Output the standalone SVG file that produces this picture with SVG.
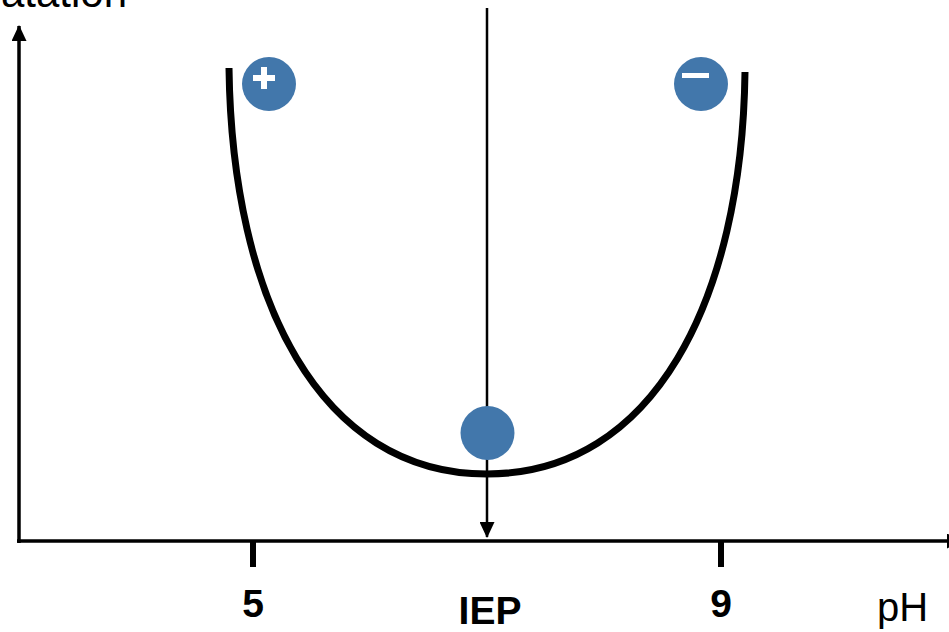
<svg xmlns="http://www.w3.org/2000/svg" width="949" height="632" viewBox="0 0 949 632">
<defs>
<style>
.axis{stroke:#000;stroke-width:3.5;fill:none}
.tick{stroke:#000;stroke-width:6}
.lbl{font-family:"Liberation Sans",Arial,sans-serif;fill:#000}
.b{font-weight:bold;font-size:39px;text-anchor:middle}
.ball{fill:#4277AB}
</style>
<marker id="ah" viewBox="0 0 16 15" refX="15" refY="7.5" markerWidth="16" markerHeight="15" markerUnits="userSpaceOnUse" orient="auto">
<path d="M0,0 L16,7.5 L0,15 Z" fill="#000"/>
</marker>
</defs>
<rect width="949" height="632" fill="#fff"/>
<g id="connectors">
<line class="axis" x1="19" y1="543" x2="19" y2="26" marker-end="url(#ah)"/>
<line class="axis" x1="17" y1="541" x2="962" y2="541" marker-end="url(#ah)"/>
<line x1="487" y1="8" x2="487" y2="537" stroke="#000" stroke-width="2.5" marker-end="url(#ah)"/>
</g>
<g id="ticks">
<line class="tick" x1="253" y1="541" x2="253" y2="567"/>
<line class="tick" x1="721" y1="541" x2="721" y2="567"/>
</g>
<g id="curve">
<path d="M229,68 C232,300 320,474 487,474 C654,474 742,300 745,72" fill="none" stroke="#000" stroke-width="7"/>
</g>
<g id="ball-plus">
<circle class="ball" cx="269" cy="84" r="27"/>
<path d="M264,67 V89 M253,78 H275" stroke="#fff" stroke-width="6"/>
</g>
<g id="ball-minus">
<circle class="ball" cx="701" cy="84" r="27"/>
<rect x="682" y="73" width="27" height="5" fill="#fff"/>
</g>
<g id="ball-iep">
<circle class="ball" cx="487.5" cy="433" r="27"/>
</g>
<g id="labels">
<text class="lbl" x="127" y="7" font-size="42" text-anchor="end">atation</text>
<text class="lbl b" x="253" y="617">5</text>
<text class="lbl b" x="721" y="617">9</text>
<text class="lbl b" x="490" y="624">IEP</text>
<text class="lbl" x="877" y="621" font-size="40">pH</text>
</g>
</svg>
